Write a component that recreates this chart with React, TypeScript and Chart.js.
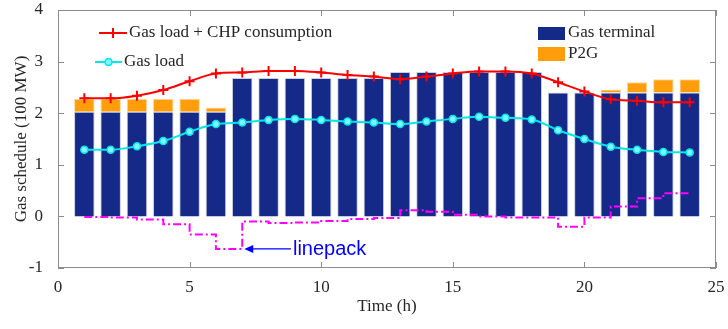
import React, { useEffect, useRef } from 'react';
import { Chart, registerables } from 'chart.js';

Chart.register(...registerables);

const hours = [1, 2, 3, 4, 5, 6, 7, 8, 9, 10, 11, 12, 13, 14, 15, 16, 17, 18, 19, 20, 21, 22, 23, 24];
const gasTerminal = [2.03, 2.03, 2.03, 2.03, 2.03, 2.03, 2.68, 2.68, 2.68, 2.68, 2.68, 2.68, 2.8, 2.8, 2.8, 2.8, 2.8, 2.8, 2.4, 2.4, 2.4, 2.4, 2.4, 2.4];
const p2g = [0.25, 0.25, 0.25, 0.25, 0.25, 0.08, 0, 0, 0, 0, 0, 0, 0, 0, 0, 0, 0, 0, 0, 0, 0.06, 0.2, 0.26, 0.26];
const gasLoadChp = [2.29, 2.29, 2.34, 2.45, 2.62, 2.77, 2.79, 2.82, 2.82, 2.79, 2.74, 2.71, 2.66, 2.71, 2.77, 2.81, 2.81, 2.77, 2.6, 2.42, 2.27, 2.24, 2.21, 2.21];
const gasLoad = [1.29, 1.29, 1.36, 1.46, 1.64, 1.79, 1.82, 1.87, 1.89, 1.87, 1.84, 1.82, 1.79, 1.84, 1.89, 1.93, 1.91, 1.88, 1.67, 1.5, 1.35, 1.29, 1.25, 1.24];
const linepack = [-0.01, -0.02, -0.06, -0.15, -0.35, -0.63, -0.1, -0.13, -0.12, -0.09, -0.05, -0.03, 0.12, 0.09, 0.03, 0.0, -0.02, -0.02, -0.2, -0.02, 0.19, 0.35, 0.45, 0.45];
const xTicks = [0, 5, 10, 15, 20, 25];
const yTicks = [-1, 0, 1, 2, 3, 4];

const SERIF = '"Liberation Serif", "Times New Roman", serif';
const NAVY = '#152a88';
const ORANGE = '#ff9d0a';
const RED = '#ff0000';
const CYAN = '#00e8ee';
const MAGENTA = '#ff00ff';
const TEXT = '#262626';

const framePlugin = {
  id: 'frameTicks',
  afterDatasetsDraw(chart: any) {
    const { ctx, chartArea: a, scales } = chart;
    const x = scales.x;
    const y = scales.y;
    ctx.save();
    ctx.strokeStyle = '#8c8c8c';
    ctx.lineWidth = 1;
    ctx.strokeRect(Math.round(a.left) + 0.5, Math.round(a.top) + 0.5, Math.round(a.width) - 1, Math.round(a.height) - 1);
    ctx.beginPath();
    xTicks.forEach((v) => {
      const px = Math.round(x.getPixelForValue(v)) + 0.5;
      ctx.moveTo(px, a.bottom);
      ctx.lineTo(px, a.bottom - 6);
      ctx.moveTo(px, a.top);
      ctx.lineTo(px, a.top + 6);
    });
    yTicks.forEach((v) => {
      const py = Math.round(y.getPixelForValue(v)) + 0.5;
      ctx.moveTo(a.left, py);
      ctx.lineTo(a.left + 6, py);
      ctx.moveTo(a.right, py);
      ctx.lineTo(a.right - 6, py);
    });
    ctx.stroke();
    ctx.restore();
  },
  afterDraw(chart: any) {
    const { ctx, scales } = chart;
    const x = scales.x;
    const y = scales.y;
    ctx.save();
    ctx.font = `17px ${SERIF}`;
    ctx.textBaseline = 'middle';
    ctx.textAlign = 'left';

    // left legend: red line
    ctx.strokeStyle = RED;
    ctx.lineWidth = 2;
    ctx.beginPath();
    ctx.moveTo(99, 33);
    ctx.lineTo(127, 33);
    ctx.moveTo(113, 28);
    ctx.lineTo(113, 38);
    ctx.moveTo(108, 33);
    ctx.lineTo(118, 33);
    ctx.stroke();
    ctx.fillStyle = TEXT;
    ctx.fillText('Gas load + CHP consumption', 129, 33);

    // cyan
    ctx.strokeStyle = CYAN;
    ctx.beginPath();
    ctx.moveTo(95, 62);
    ctx.lineTo(122, 62);
    ctx.stroke();
    ctx.beginPath();
    ctx.arc(108.5, 62, 3.5, 0, Math.PI * 2);
    ctx.fillStyle = '#80f6f8';
    ctx.fill();
    ctx.lineWidth = 1.5;
    ctx.stroke();
    ctx.fillStyle = TEXT;
    ctx.fillText('Gas load', 124, 62);

    // right legend
    ctx.fillStyle = NAVY;
    ctx.fillRect(538, 27, 27, 13);
    ctx.fillStyle = ORANGE;
    ctx.fillRect(538, 47, 27, 14);
    ctx.fillStyle = TEXT;
    ctx.fillText('Gas terminal', 568, 33);
    ctx.fillText('P2G', 568, 54);

    // linepack annotation
    const tipX = x.getPixelForValue(7) + 2;
    const tipY = y.getPixelForValue(linepack[5]);
    const tailX = x.getPixelForValue(8.85);
    ctx.strokeStyle = '#0000ff';
    ctx.fillStyle = '#0000ff';
    ctx.lineWidth = 1.2;
    ctx.beginPath();
    ctx.moveTo(tipX + 6, tipY);
    ctx.lineTo(tailX, tipY);
    ctx.stroke();
    ctx.beginPath();
    ctx.moveTo(tipX, tipY);
    ctx.lineTo(tipX + 9, tipY - 4);
    ctx.lineTo(tipX + 9, tipY + 4);
    ctx.closePath();
    ctx.fill();
    ctx.font = '20px "Liberation Sans", Arial, sans-serif';
    ctx.fillText('linepack', tailX + 2, tipY + 1);
    ctx.restore();
  },
};

export default function App() {
  const ref = useRef<HTMLCanvasElement | null>(null);

  useEffect(() => {
    if (!ref.current) return;
    const chart = new Chart(ref.current, {
      type: 'bar',
      data: {
        datasets: [
          {
            type: 'line',
            label: 'Gas load + CHP consumption',
            data: hours.map((h, i) => ({ x: h, y: gasLoadChp[i] })),
            borderColor: RED,
            backgroundColor: RED,
            borderWidth: 2,
            pointStyle: 'cross',
            pointRadius: 5,
            pointBorderWidth: 2,
            cubicInterpolationMode: 'monotone',
            stack: 's1',
            order: 0,
          } as any,
          {
            type: 'line',
            label: 'Gas load',
            data: hours.map((h, i) => ({ x: h, y: gasLoad[i] })),
            borderColor: CYAN,
            backgroundColor: '#80f6f8',
            borderWidth: 2,
            pointStyle: 'circle',
            pointRadius: 3.5,
            pointBorderWidth: 1.5,
            cubicInterpolationMode: 'monotone',
            stack: 's2',
            order: 1,
          } as any,
          {
            type: 'line',
            label: 'linepack',
            data: hours.map((h, i) => ({ x: h, y: linepack[i] })),
            borderColor: MAGENTA,
            borderWidth: 2,
            borderDash: [8, 3, 2, 3],
            pointRadius: 0,
            stepped: 'before',
            stack: 's3',
            order: 2,
          } as any,
          {
            type: 'bar',
            label: 'Gas terminal',
            data: hours.map((h, i) => ({ x: h, y: gasTerminal[i] })),
            backgroundColor: NAVY,
            borderColor: '#c9cde0',
            borderWidth: 1,
            barPercentage: 0.78,
            categoryPercentage: 1,
            stack: 'gas',
            order: 3,
          } as any,
          {
            type: 'bar',
            label: 'P2G',
            data: hours.map((h, i) => ({ x: h, y: p2g[i] })),
            backgroundColor: ORANGE,
            borderColor: '#ffd9a0',
            borderWidth: 1,
            barPercentage: 0.78,
            categoryPercentage: 1,
            stack: 'gas',
            order: 3,
          } as any,
        ],
      },
      options: {
        animation: false,
        responsive: false,
        maintainAspectRatio: false,
        devicePixelRatio: 1,
        layout: { padding: { left: 0, right: 12, top: 10, bottom: 0 } },
        plugins: { legend: { display: false }, tooltip: { enabled: false } },
        scales: {
          x: {
            type: 'linear',
            min: 0,
            max: 25,
            offset: false,
            stacked: true,
            grid: { display: false },
            border: { display: false },
            ticks: {
              stepSize: 5,
              padding: 1,
              color: TEXT,
              font: { family: SERIF, size: 17 },
              maxRotation: 0,
            },
            title: {
              display: true,
              text: 'Time (h)',
              color: TEXT,
              font: { family: SERIF, size: 17 },
              padding: { top: 0, bottom: 12 },
            },
            afterFit: (s: any) => {
              s.height = 61;
              s.paddingLeft = 0;
              s.paddingRight = 0;
            },
          },
          y: {
            type: 'linear',
            min: -1,
            max: 4,
            stacked: true,
            grid: { display: false },
            border: { display: false },
            ticks: {
              stepSize: 1,
              padding: 7,
              color: TEXT,
              font: { family: SERIF, size: 17 },
            },
            title: {
              display: true,
              text: 'Gas schedule (100 MW)',
              color: TEXT,
              font: { family: SERIF, size: 17 },
              padding: { top: 11, bottom: 0 },
            },
            afterFit: (s: any) => {
              s.width = 58;
              s.paddingTop = 0;
              s.paddingBottom = 0;
            },
          },
        },
      } as any,
      plugins: [framePlugin],
    });
    return () => chart.destroy();
  }, []);

  return (
    <div style={{ position: 'fixed', left: 0, top: 0, width: 728, height: 329, background: '#fff' }}>
      <canvas ref={ref} width={728} height={329} style={{ width: 728, height: 329, display: 'block' }} />
    </div>
  );
}
